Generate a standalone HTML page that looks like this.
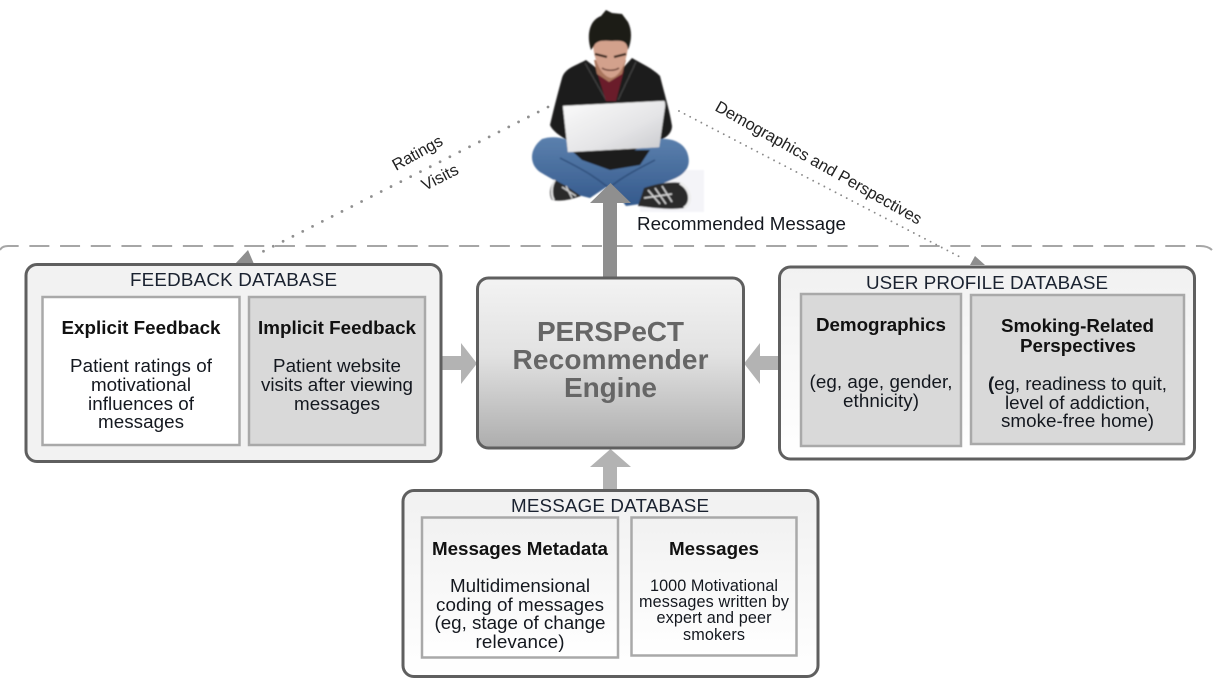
<!DOCTYPE html>
<html>
<head>
<meta charset="utf-8">
<style>
html,body{margin:0;padding:0;background:#fff;}
svg{display:block;}
text{font-family:"Liberation Sans",sans-serif;fill:#111;text-anchor:middle;}
.h{font-size:18.8px;fill:#1a2230;}
.b{font-size:18.8px;font-weight:bold;}
.t{font-size:18.8px;fill:#14181f;}
.s{font-size:16.2px;fill:#14181f;}
.e{font-size:28px;font-weight:bold;fill:#666;}
.l{font-size:16.4px;text-anchor:start;fill:#222;}
</style>
</head>
<body>
<svg width="1214" height="686" viewBox="0 0 1214 686" xmlns="http://www.w3.org/2000/svg">
<defs>
<linearGradient id="g1" x1="0" y1="0" x2="0" y2="1"><stop offset="0" stop-color="#f1f1f1"/><stop offset="1" stop-color="#ffffff"/></linearGradient>
<linearGradient id="g2" x1="0" y1="0" x2="0" y2="1"><stop offset="0" stop-color="#f3f3f3"/><stop offset="0.45" stop-color="#e2e2e2"/><stop offset="1" stop-color="#adadad"/></linearGradient>
<linearGradient id="lap" x1="0" y1="0" x2="1" y2="1"><stop offset="0" stop-color="#fbfbfb"/><stop offset="0.6" stop-color="#e4e4e6"/><stop offset="1" stop-color="#c8c9cd"/></linearGradient>
<linearGradient id="jean" x1="0" y1="0" x2="0" y2="1"><stop offset="0" stop-color="#5b80ad"/><stop offset="1" stop-color="#34598c"/></linearGradient>
<filter id="soft" x="-5%" y="-5%" width="110%" height="110%"><feGaussianBlur stdDeviation="0.7"/></filter>
</defs>

<rect width="1214" height="686" fill="#fff"/>

<!-- person -->
<g filter="url(#soft)">
<rect x="640" y="170" width="64" height="42" fill="#f4f4f8"/>
<!-- jacket -->
<path d="M586 60 C575 66 565 68 562 78 C557 96 553 112 550 125 C553 132 562 137 570 142 L572 170 L650 170 L660 140 C668 137 672 132 672 126 C670 112 664 92 660 76 C652 68 642 64 632 58 L612 80 Z" fill="#1c1b1b"/>
<path d="M585 63 L606 100 M636 62 L618 100" stroke="#3c3c3c" stroke-width="1.5" fill="none"/>
<!-- shirt -->
<path d="M597 72 L610 80 L624 70 L616 101 L606 101 Z" fill="#6b1a2b"/>
<!-- neck & face -->
<path d="M594 60 L626 60 L622 74 L609 82 L597 74 Z" fill="#a9745c"/>
<path d="M593 38 L628 38 C629 56 622 76 611 78 C600 76 592 56 593 38 Z" fill="#d3a18c"/>
<path d="M595 54 L607 57 M614 57 L626 54" stroke="#3a261d" stroke-width="2.4" fill="none"/>
<path d="M602 68 C606 71 615 71 619 68" stroke="#6a4034" stroke-width="1.5" fill="none"/>
<!-- hair -->
<path d="M591 50 C586 34 590 20 601 16 L606 10 L612 13 L622 14 L628 22 C632 30 632 40 628 50 C627 42 624 40 612 41 C602 40 596 41 594 46 Z" fill="#1e1a18"/>
<!-- jeans -->
<path d="M542 139 C555 135 568 138 582 148 C592 155 600 160 610 168 C620 160 635 148 652 141 C665 136 682 140 687 152 C692 165 686 173 676 178 C662 184 652 187 643 196 L640 204 L626 206 C620 198 614 190 608 186 L590 198 L578 195 C565 186 550 178 540 172 C530 165 528 150 542 139 Z" fill="url(#jean)"/>
<path d="M572 151 L650 150 L640 165 L610 170 L582 160 Z" fill="#1a1a1c"/>
<path d="M560 158 C580 168 600 178 622 200 M655 160 C640 168 625 175 610 187" stroke="#2f4f7c" stroke-width="1.5" fill="none"/>
<!-- shoes -->
<path d="M555 180 C549 186 549 196 552 200 C562 202 572 199 581 196 L566 186 Z" fill="#2a2a2c"/>
<path d="M555 180 C551 186 551 196 554 200" stroke="#e8e8e8" stroke-width="2" fill="none"/>
<path d="M562 187 L576 196 M566 186 L572 198" stroke="#ccc" stroke-width="1.5"/>
<path d="M644 188 C655 184 670 181 682 183 C692 190 692 202 684 208 C672 210 652 208 638 206 Z" fill="#2a2a2c"/>
<path d="M680 183 C692 190 692 204 684 208" stroke="#ededed" stroke-width="3" fill="none"/>
<path d="M648 190 L660 204 M655 188 L666 204 M662 186 L672 202 M644 198 L672 194" stroke="#d5d5d5" stroke-width="1.5"/>
<!-- laptop -->
<path d="M563 106 L664 101 C665 102 665 104 665 106 L659 147 L568 152 Z" fill="url(#lap)" stroke="#d9d9d9" stroke-width="0.5"/>
</g>

<!-- dashed boundary -->
<path d="M0 250 Q2 246 8 246 L1200 246 Q1208 246 1212 250" fill="none" stroke="#a6a6a6" stroke-width="2" stroke-dasharray="20 10.7"/>

<!-- dotted links -->
<path d="M548 107 L262 252" fill="none" stroke="#8f8f8f" stroke-width="2.8" stroke-linecap="round" stroke-dasharray="0 11"/>
<path d="M679 111 L962 258" fill="none" stroke="#8a8a8a" stroke-width="1.9" stroke-linecap="round" stroke-dasharray="0 6.3"/>
<path d="M235 264 L248 250 L254 264 Z" fill="#8e8e8e"/>
<path d="M970 265 L975 256 L985 265 Z" fill="#8e8e8e"/>

<!-- block arrows -->
<path d="M603 278 L603 203 L590 203 L610.5 183 L631 203 L617 203 L617 278 Z" fill="#8f8f8f"/>
<path d="M441 356 L461 356 L461 343 L477 363.5 L461 384 L461 370 L441 370 Z" fill="#b3b3b3"/>
<path d="M779 356 L760 356 L760 343 L744 363.5 L760 384 L760 370 L779 370 Z" fill="#b3b3b3"/>
<path d="M603 490 L603 467 L590 467 L610.5 449 L631 467 L617 467 L617 490 Z" fill="#b3b3b3"/>

<!-- feedback db -->
<rect x="26" y="264.5" width="415" height="197" rx="11" fill="#f2f2f2" stroke="#5f5f5f" stroke-width="3"/>
<rect x="42.5" y="297" width="197" height="148" fill="#fff" stroke="#a9a9a9" stroke-width="2.5"/>
<rect x="249" y="297" width="176" height="148" fill="#d9d9d9" stroke="#a9a9a9" stroke-width="2.5"/>
<text class="h" x="233.5" y="286" textLength="207">FEEDBACK DATABASE</text>
<text class="b" x="141" y="334" textLength="159">Explicit Feedback</text>
<text class="t" x="141" y="372" textLength="142">Patient ratings of</text>
<text class="t" x="141" y="391" textLength="100">motivational</text>
<text class="t" x="141" y="410" textLength="106">influences of</text>
<text class="t" x="141" y="428" textLength="86">messages</text>
<text class="b" x="337" y="334" textLength="158">Implicit Feedback</text>
<text class="t" x="337" y="372" textLength="128">Patient website</text>
<text class="t" x="337" y="391" textLength="152">visits after viewing</text>
<text class="t" x="337" y="410" textLength="86">messages</text>

<!-- engine -->
<rect x="477.5" y="278" width="266" height="170" rx="11" fill="url(#g2)" stroke="#5f5f5f" stroke-width="3"/>
<text class="e" x="610.5" y="341" textLength="147">PERSPeCT</text>
<text class="e" x="610.5" y="369" textLength="196">Recommender</text>
<text class="e" x="610.5" y="397" textLength="93">Engine</text>

<!-- user profile db -->
<rect x="779.5" y="267" width="415" height="192" rx="11" fill="url(#g1)" stroke="#5f5f5f" stroke-width="3"/>
<rect x="801" y="294" width="160" height="152" fill="#d9d9d9" stroke="#a9a9a9" stroke-width="2.5"/>
<rect x="971" y="295" width="213" height="149" fill="#d9d9d9" stroke="#a9a9a9" stroke-width="2.5"/>
<text class="h" x="987" y="289" textLength="242">USER PROFILE DATABASE</text>
<text class="b" x="881" y="331" textLength="130">Demographics</text>
<text class="t" x="881" y="388" textLength="143">(eg, age, gender,</text>
<text class="t" x="881" y="407" textLength="76">ethnicity)</text>
<text class="b" x="1077.5" y="332" textLength="153">Smoking-Related</text>
<text class="b" x="1078" y="352" textLength="116">Perspectives</text>
<text class="t" x="1077.5" y="390" textLength="179"><tspan font-weight="bold">(</tspan>eg, readiness to quit,</text>
<text class="t" x="1077.5" y="409" textLength="145">level of addiction,</text>
<text class="t" x="1077.5" y="427" textLength="153">smoke-free home)</text>

<!-- message db -->
<rect x="403" y="490.5" width="415" height="186" rx="11" fill="url(#g1)" stroke="#5f5f5f" stroke-width="3"/>
<rect x="422" y="517.5" width="196" height="140" fill="url(#g1)" stroke="#a9a9a9" stroke-width="2.5"/>
<rect x="631.5" y="517.5" width="165" height="138" fill="url(#g1)" stroke="#a9a9a9" stroke-width="2.5"/>
<text class="h" x="610" y="512" textLength="198">MESSAGE DATABASE</text>
<text class="b" x="520" y="555" textLength="176">Messages Metadata</text>
<text class="t" x="520" y="592" textLength="140">Multidimensional</text>
<text class="t" x="520" y="611" textLength="168">coding of messages</text>
<text class="t" x="520" y="629" textLength="171">(eg, stage of change</text>
<text class="t" x="520" y="648" textLength="89">relevance)</text>
<text class="b" x="714" y="555" textLength="90">Messages</text>
<text class="s" x="714" y="591" textLength="128">1000 Motivational</text>
<text class="s" x="714" y="607" textLength="150">messages written by</text>
<text class="s" x="714" y="623" textLength="115">expert and peer</text>
<text class="s" x="714" y="640" textLength="62">smokers</text>

<!-- connector labels -->
<text class="t" x="741.5" y="230" textLength="209">Recommended Message</text>
<text class="l" transform="translate(396 171) rotate(-29)" textLength="55">Ratings</text>
<text class="l" transform="translate(425 191) rotate(-27)" textLength="39">Visits</text>
<text class="l" transform="translate(714 110) rotate(29.4)" textLength="234">Demographics and Perspectives</text>
</svg>
</body>
</html>
